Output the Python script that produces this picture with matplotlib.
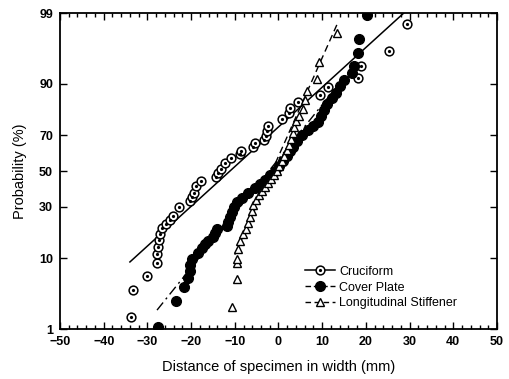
import numpy as np
import matplotlib
matplotlib.use("Agg")
import matplotlib.pyplot as plt
from matplotlib.ticker import FixedLocator, MultipleLocator, FixedFormatter
from matplotlib.legend_handler import HandlerTuple
from statistics import NormalDist

plt.rcParams['font.family'] = ['Liberation Sans', 'DejaVu Sans']

# ---------------- data ----------------
cruciform_x = [-33.8, -33.3, -30.1, -27.8, -27.8, -27.6, -27.3, -27.1, -26.7, -25.7,
               -24.8, -24.1, -22.8, -20.3, -19.8, -19.3, -18.9, -17.7, -14.3, -13.8,
               -13.2, -12.2, -10.9, -8.8, -8.6, -5.8, -5.4, -3.3, -2.9, -2.6,
               -2.4, 0.8, 2.4, 2.6, 4.5, 9.5, 11.3, 18.2, 18.9, 25.3, 29.4]
cruciform_p = [1.6, 4.0, 6.1, 8.8, 11.1, 13.2, 15.5, 17.7, 20.1, 21.7,
               23.5, 25.4, 29.8, 32.9, 35.1, 37.3, 41.3, 44.2, 46.5, 48.8,
               51.2, 54.7, 57.6, 59.9, 61.6, 63.8, 66.0, 67.6, 69.7, 72.2,
               74.6, 77.8, 80.3, 82.3, 84.5, 86.8, 89.2, 91.5, 93.9, 96.1, 98.5]

cover_x = [-27.6, -23.5, -21.6, -20.7, -20.3, -20.3, -19.8, -18.4, -17.5, -16.8,
           -16.1, -15.0, -14.5, -14.1, -11.8, -11.6, -11.1, -10.6, -10.2, -9.5,
           -8.4, -7.0, -5.4, -4.2, -3.1, -2.0, -0.8, 0.1, 1.0, 1.9,
           2.6, 3.3, 4.2, 5.4, 6.8, 7.9, 9.0, 9.7, 10.4, 11.1,
           12.2, 13.2, 14.1, 15.0, 16.8, 17.2, 18.2, 18.4, 20.3]
cover_p = [1.1, 2.8, 4.4, 5.7, 7.0, 8.3, 9.7, 11.4, 12.8, 14.1,
           15.1, 16.6, 18.1, 19.7, 20.9, 22.6, 24.9, 27.3, 29.8, 32.4,
           34.5, 37.3, 40.1, 42.4, 44.7, 47.6, 50.0, 52.9, 55.8, 58.7,
           61.6, 63.8, 67.1, 70.2, 72.7, 74.6, 76.5, 79.1, 81.6, 83.8,
           85.9, 87.5, 89.4, 91.0, 92.5, 93.9, 95.9, 97.4, 98.9]

stiff_x = [-10.6, -9.5, -9.5, -9.5, -9.3, -8.8, -8.1, -7.4, -7.0, -6.5,
           -6.1, -5.8, -5.1, -4.5, -3.8, -3.1, -2.4, -1.7, -1.0, -0.3,
           0.1, 0.8, 1.3, 1.9, 2.4, 2.9, 3.3, 3.5, 4.0, 4.7,
           5.6, 6.1, 6.5, 8.8, 9.3, 13.4]
stiff_p = [2.3, 5.6, 8.8, 9.7, 12.5, 15.1, 17.7, 19.7, 22.2, 24.9,
           27.8, 30.8, 33.5, 36.2, 38.4, 40.7, 43.0, 45.3, 47.6, 50.0,
           52.9, 55.8, 58.7, 62.1, 64.9, 68.1, 71.2, 74.1, 76.9, 79.1,
           81.9, 85.2, 88.1, 91.2, 94.6, 97.9]

# fitted normal lines: (mean, std, x_start, x_end)
cruciform_fit = (-11.1, 17.1, -34.0, 30.0)
cover_fit = (-2.2, 12.5, -27.8, 15.0)
stiff_fit = (-1.5, 6.9, -10.0, 13.5)

labels = ["Cruciform", "Cover Plate", "Longitudinal Stiffener"]
y_ticks = [1, 10, 30, 50, 70, 90, 99]
x_ticks = [-50, -40, -30, -20, -10, 0, 10, 20, 30, 40, 50]

# ---------------- probability scale ----------------
nd = NormalDist()
_ppf = np.vectorize(lambda p: nd.inv_cdf(min(max(p / 100.0, 1e-9), 1 - 1e-9)),
                    otypes=[float])
_cdf = np.vectorize(lambda z: nd.cdf(z) * 100.0, otypes=[float])


def fwd(p):
    return _ppf(np.asarray(p, dtype=float))


def inv(z):
    return _cdf(np.asarray(z, dtype=float))


def fit_line(fit):
    mu, sd, x0, x1 = fit
    xs = np.linspace(x0, x1, 60)
    ps = np.array([nd.cdf((x - mu) / sd) * 100 for x in xs])
    return xs, ps


fig = plt.figure(figsize=(5.10, 3.79), dpi=100)
ax = fig.add_axes([60 / 510, 1 - 329 / 379, 437 / 510, 316 / 379])
ax.set_yscale('function', functions=(fwd, inv))

# fit lines
xs, ps = fit_line(cruciform_fit)
ax.plot(xs, ps, color='black', lw=1.1, ls='-', zorder=2)
xs, ps = fit_line(cover_fit)
ax.plot(xs, ps, color='black', lw=1.0, ls=(0, (7, 3, 1.5, 3)), zorder=2)
xs, ps = fit_line(stiff_fit)
ax.plot(xs, ps, color='black', lw=1.0, ls=(0, (5, 3)), zorder=2)

# points
ax.plot(cruciform_x, cruciform_p, ls='none', marker='o', ms=6.3, mfc='white',
        mec='black', mew=1.1, zorder=3)
ax.plot(cruciform_x, cruciform_p, ls='none', marker='o', ms=2.3, mfc='black',
        mec='black', mew=0, zorder=4)
ax.plot(cover_x, cover_p, ls='none', marker='o', ms=7, mfc='black',
        mec='black', zorder=3)
ax.plot(stiff_x, stiff_p, ls='none', marker='^', ms=6, mfc='white',
        mec='black', mew=1.0, zorder=3)

# legend handles
h1a, = ax.plot([], [], color='black', lw=1.1, ls='-', marker='o', ms=6.3,
               mfc='white', mec='black', mew=1.1)
h1b, = ax.plot([], [], ls='none', marker='o', ms=2.3, mfc='black', mec='black', mew=0)
h2, = ax.plot([], [], color='black', lw=1.0, ls=(0, (4, 2)), marker='o', ms=7,
              mfc='black', mec='black')
h3, = ax.plot([], [], color='black', lw=1.0, ls=(0, (4, 2.5)), marker='^', ms=6,
              mfc='white', mec='black', mew=1.0)
leg = ax.legend([(h1a, h1b), h2, h3], labels, loc='upper left',
                bbox_to_anchor=(0.56, 0.20), frameon=False, fontsize=9,
                handlelength=2.4, handletextpad=0.35, labelspacing=0.3,
                borderpad=0, borderaxespad=0,
                handler_map={tuple: HandlerTuple(ndivide=1, pad=0)})

ax.set_xlim(-50, 50)
ax.set_ylim(1, 99)
ax.xaxis.set_major_locator(FixedLocator(x_ticks))
ax.xaxis.set_minor_locator(MultipleLocator(2))
ax.yaxis.set_major_locator(FixedLocator(y_ticks))
ax.yaxis.set_major_formatter(FixedFormatter([str(v) for v in y_ticks]))
ax.yaxis.set_minor_locator(FixedLocator([]))
ax.tick_params(axis='both', which='both', direction='in', top=True, right=True,
               width=1.0)
ax.tick_params(axis='both', which='major', length=5, labelsize=9, pad=5)
ax.tick_params(axis='y', which='minor', length=0)
ax.tick_params(axis='x', which='minor', length=3)
for lab in ax.get_xticklabels() + ax.get_yticklabels():
    lab.set_fontweight('bold')
for s in ax.spines.values():
    s.set_linewidth(1.3)

ax.set_xlabel("Distance of specimen in width (mm)", fontsize=10.5, labelpad=9)
ax.set_ylabel("Probability (%)", fontsize=10.5, labelpad=9)

fig.savefig("out.png", dpi=100)
